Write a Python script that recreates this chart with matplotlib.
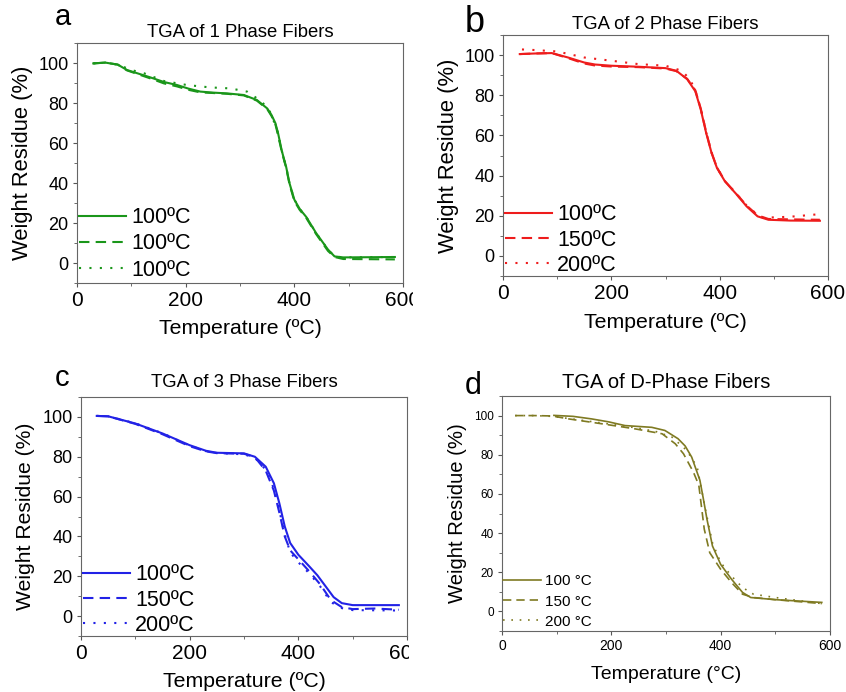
import numpy as np
import matplotlib
matplotlib.use('Agg')
import matplotlib.pyplot as plt
from matplotlib.patches import Rectangle

plt.rcParams['font.family'] = ['Liberation Sans', 'DejaVu Sans']

# TGA curves, temperature in degC and weight residue in %
# panel a: 1 phase fibers
t_a_solid = [30, 52, 75, 92, 135, 160, 184, 205, 227, 250, 276, 307, 331, 350, 358, 365,
             370, 377, 385, 391, 400, 410, 422, 440, 462, 474, 490, 540, 585]
w_a_solid = [99.8, 100.2, 99.2, 96.5, 92.8, 90.5, 89.0, 87.2, 85.7, 85.2, 84.8, 84.0, 81.5, 77.3, 74.0, 70.0,
             65.0, 56.0, 48.0, 40.0, 31.7, 27.0, 23.0, 15.0, 6.7, 3.3, 2.8, 2.9, 3.0]
t_a_dash = [30, 52, 75, 92, 135, 160, 184, 205, 227, 250, 276, 307, 331, 350, 358, 365,
            370, 377, 385, 391, 400, 410, 422, 440, 462, 474, 490, 540, 585]
w_a_dash = [99.8, 100.2, 99.2, 96.3, 92.3, 89.8, 88.3, 86.6, 85.3, 85.0, 84.6, 83.8, 81.2, 77.0, 73.5, 69.5,
            64.0, 55.5, 47.5, 39.5, 31.0, 26.5, 22.5, 14.5, 6.0, 3.0, 2.0, 1.9, 1.8]
t_a_dot = [30, 52, 75, 100, 124, 160, 202, 245, 282, 313, 340, 355, 362,
           370, 377, 385, 391, 400, 410, 422, 440, 462, 474, 490, 540, 585]
w_a_dot = [99.8, 100.2, 99.2, 96.5, 94.8, 91.0, 89.0, 87.8, 87.3, 85.7, 80.7, 75.7, 71.0,
           65.0, 56.0, 48.0, 40.0, 31.7, 27.0, 23.0, 15.0, 6.7, 3.3, 2.8, 2.9, 3.0]
labels_a = ['100ºC', '100ºC', '100ºC']

# panel b: 2 phase fibers
t_b_solid = [31, 60, 90, 120, 150, 170, 200, 250, 300, 320, 340, 355, 365, 375, 385, 395,
             410, 430, 450, 470, 490, 530, 585]
w_b_solid = [100.5, 100.8, 101.0, 98.8, 96.3, 95.3, 94.7, 94.2, 93.5, 92.2, 88.0, 82.0, 73.0, 61.3, 51.3, 43.8,
             37.0, 31.0, 24.6, 19.7, 18.0, 17.6, 17.5]
t_b_dash = [31, 60, 90, 120, 150, 170, 200, 250, 300, 320, 340, 355, 365, 375, 385, 395,
            410, 430, 450, 470, 490, 530, 585]
w_b_dash = [100.5, 100.8, 101.0, 98.5, 95.8, 94.8, 94.3, 94.0, 93.3, 92.0, 88.2, 82.5, 73.5, 61.8, 51.5, 44.0,
            37.2, 31.2, 25.0, 20.2, 18.4, 18.2, 18.0]
t_b_dot = [35, 60, 100, 150, 200, 250, 300, 330, 345, 355, 365, 375, 385, 395,
           410, 430, 450, 470, 480, 530, 585]
w_b_dot = [102.8, 102.5, 101.8, 98.8, 97.2, 95.5, 94.7, 92.2, 88.0, 82.5, 73.5, 61.5, 51.5, 44.0,
           37.2, 31.2, 25.0, 20.5, 19.0, 19.5, 20.8]
labels_b = ['100ºC', '150ºC', '200ºC']

# panel c: 3 phase fibers
t_c_solid = [29, 50, 100, 150, 200, 230, 250, 300, 320, 340, 355, 365, 375, 385, 400,
             420, 435, 450, 465, 480, 500, 585]
w_c_solid = [100.5, 100.3, 96.7, 91.7, 85.8, 83.0, 82.0, 81.7, 80.0, 75.0, 66.7, 56.7, 45.0, 36.7, 30.8,
             25.0, 20.5, 15.0, 9.5, 6.5, 5.5, 5.5]
t_c_dash = [29, 50, 100, 150, 200, 230, 250, 300, 320, 340, 355, 365, 375, 385, 400,
            420, 440, 460, 480, 500, 540, 585]
w_c_dash = [100.5, 100.3, 96.5, 91.3, 85.3, 82.7, 81.8, 81.5, 79.8, 73.0, 63.0, 52.0, 40.0, 33.0, 28.5,
            22.5, 16.0, 8.0, 4.5, 3.5, 3.8, 3.2]
t_c_dot = [29, 50, 100, 150, 200, 230, 250, 300, 320, 340, 355, 365, 375, 385, 400,
           420, 440, 460, 480, 500, 585]
w_c_dot = [100.5, 100.3, 96.8, 91.8, 85.6, 82.8, 81.9, 81.2, 79.5, 73.5, 64.0, 53.0, 41.0, 32.0, 27.0,
           21.5, 15.0, 7.0, 4.0, 3.0, 2.8]
labels_c = ['100ºC', '150ºC', '200ºC']

# panel d: D-phase fibers
t_d_solid = [95, 130, 164, 195, 225, 274, 298, 322, 335, 347, 362, 368, 375, 385, 400,
             420, 440, 455, 500, 585]
w_d_solid = [100.1, 99.6, 98.3, 96.8, 94.9, 94.0, 92.4, 88.2, 84.5, 78.8, 67.0, 58.0, 47.0, 33.4, 24.0,
             16.4, 9.7, 7.1, 6.0, 4.6]
t_d_dash = [24, 60, 92, 122, 183, 244, 293, 317, 332, 350, 360, 370, 380, 400,
            420, 440, 460, 500, 585]
w_d_dash = [100.0, 100.0, 99.8, 98.3, 95.8, 93.2, 90.7, 85.6, 80.5, 71.2, 64.5, 42.0, 30.0, 21.5,
            14.7, 8.8, 7.1, 6.0, 4.0]
t_d_dot = [24, 60, 92, 122, 183, 244, 280, 311, 338, 357, 370, 385, 400,
           420, 440, 460, 500, 585]
w_d_dot = [100.0, 100.0, 99.6, 98.5, 96.2, 93.8, 92.0, 89.0, 82.2, 73.8, 55.0, 35.0, 25.0,
           18.0, 12.2, 8.8, 7.1, 4.0]
labels_d = ['100 °C', '150 °C', '200 °C']

titles = ['TGA of 1 Phase Fibers', 'TGA of 2 Phase Fibers',
          'TGA of 3 Phase Fibers', 'TGA of D-Phase Fibers']

W, H = 846, 692
fig = plt.figure(figsize=(W / 100, H / 100), dpi=100)


def box(left, top, right, bottom):
    # axes rectangle from pixel edges (origin top-left)
    return [left / W, 1 - bottom / H, (right - left) / W, (bottom - top) / H]


def style_axes(ax, p):
    ax.set_xlim(0, 600)
    ax.set_ylim(-10, 110)
    ax.set_xticks([0, 200, 400, 600])
    ax.set_xticks([100, 300, 500], minor=True)
    ax.set_yticks([0, 20, 40, 60, 80, 100])
    ax.set_yticks([-10, 10, 30, 50, 70, 90, 110], minor=True)
    ax.tick_params(which='major', direction='out', length=3, width=0.8, color='#555555', pad=3)
    ax.tick_params(which='minor', direction='out', length=2, width=0.6, color='#555555')
    ax.tick_params(axis='x', which='major', labelsize=p['xtick'])
    ax.tick_params(axis='y', which='major', labelsize=p['ytick'])
    for sp in ax.spines.values():
        sp.set_color('#666666')
        sp.set_linewidth(0.8)
    ax.set_xlabel(p['xlabel'], fontsize=p['lab'], labelpad=p['xpad'])
    ax.set_ylabel('Weight Residue (%)', fontsize=p['ylab'], labelpad=p['ypad'])
    ax.set_title(p['title'], fontsize=p['tsize'], pad=p['tpad'])


panels = [
    dict(rect=box(77, 43, 403, 283), color='#1a961a', lw=1.5,
         series=[(t_a_solid, w_a_solid), (t_a_dash, w_a_dash), (t_a_dot, w_a_dot)],
         labels=labels_a, title=titles[0], xlabel='Temperature (ºC)',
         xtick=15, ytick=13, lab=15.3, ylab=15.8, tsize=13.3, tpad=4, xpad=6, ypad=4,
         leg_size=15.5, leg_anchor=(0.005, 0.01), hlen=2.2, lspace=0.24,
         letter='a', letter_xy=(55, 25), letter_size=21),
    dict(rect=box(503, 35, 828, 276), color='#ee1c1c', lw=1.5,
         series=[(t_b_solid, w_b_solid), (t_b_dash, w_b_dash), (t_b_dot, w_b_dot)],
         labels=labels_b, title=titles[1], xlabel='Temperature (ºC)',
         xtick=15, ytick=13, lab=15.3, ylab=15.8, tsize=13.3, tpad=4, xpad=7, ypad=4,
         leg_size=15.5, leg_anchor=(0.005, 0.0), hlen=2.2, lspace=0.2,
         letter='b', letter_xy=(465, 32), letter_size=26),
    dict(rect=box(81, 397, 407, 636), color='#2222e6', lw=1.5,
         series=[(t_c_solid, w_c_solid), (t_c_dash, w_c_dash), (t_c_dot, w_c_dot)],
         labels=labels_c, title=titles[2], xlabel='Temperature (ºC)',
         xtick=15, ytick=13, lab=15.3, ylab=15.2, tsize=13.3, tpad=7, xpad=6, ypad=5,
         leg_size=15.5, leg_anchor=(0.005, 0.0), hlen=2.2, lspace=0.2,
         letter='c', letter_xy=(55, 386), letter_size=21),
    dict(rect=box(502, 396, 830, 631), color='#7f7a22', lw=1.2,
         series=[(t_d_solid, w_d_solid), (t_d_dash, w_d_dash), (t_d_dot, w_d_dot)],
         labels=labels_d, title=titles[3], xlabel='Temperature (°C)',
         xtick=10, ytick=8.5, lab=14, ylab=14.6, tsize=14.5, tpad=6, xpad=9, ypad=5,
         leg_size=11, leg_anchor=(0.003, 0.01), hlen=2.5, lspace=0.4,
         letter='d', letter_xy=(465, 394), letter_size=22),
]

dash_styles = [(None, '-'), ((5, 3), '--'), ((1, 4), ':')]

for p in panels:
    ax = fig.add_axes(p['rect'])
    for (t, w), lab, (dashes, ls) in zip(p['series'], p['labels'], dash_styles):
        line, = ax.plot(t, w, color=p['color'], lw=p['lw'], ls=ls, label=lab)
        if dashes is not None:
            line.set_dashes(dashes)
    style_axes(ax, p)
    ax.legend(loc='lower left', bbox_to_anchor=p['leg_anchor'], frameon=False,
              fontsize=p['leg_size'], borderpad=0, borderaxespad=0,
              handlelength=p['hlen'], handletextpad=0.25, labelspacing=p['lspace'])
    lx, ly = p['letter_xy']
    fig.text(lx / W, 1 - ly / H, p['letter'], fontsize=p['letter_size'],
             ha='left', va='baseline')

# the left-hand panels were trimmed just past the last x tick label
for x0, y0, y1 in [(413, 288, 314), (409, 641, 667)]:
    fig.patches.append(Rectangle((x0 / W, 1 - y1 / H), 22 / W, (y1 - y0) / H,
                                 transform=fig.transFigure, facecolor='white',
                                 edgecolor='none', zorder=10))

fig.savefig('out.png', dpi=100)
